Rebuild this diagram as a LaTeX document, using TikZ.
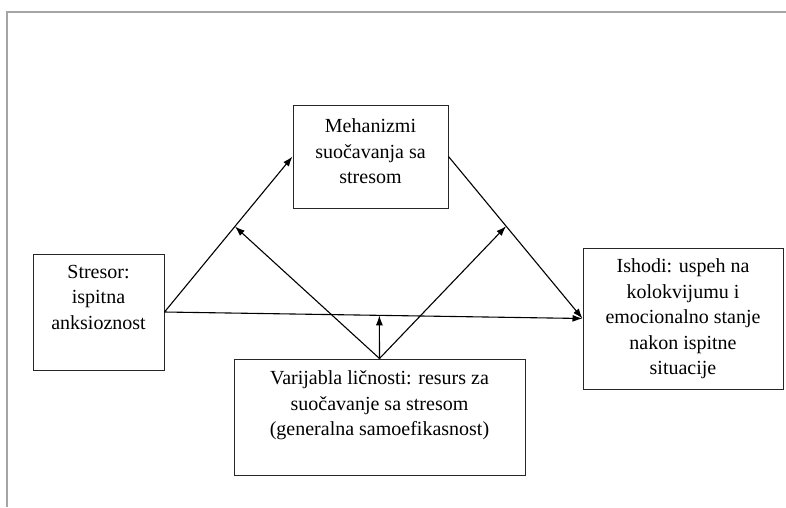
\documentclass[tikz,border=0pt]{standalone}
\usepackage{fontspec}
\setmainfont{Liberation Serif}
\usepackage{xcolor}
\usepackage{tikz}
\usetikzlibrary{positioning,calc,arrows.meta}

\definecolor{framegray}{RGB}{165,165,165}
\tikzset{
  box/.style={draw=black!85, line width=1pt, rectangle, inner sep=0pt},
  boxtext/.style={align=center, inner sep=0pt, font=\fontsize{20}{25.5}\selectfont}
}

\begin{document}
\begin{tikzpicture}[x=1pt, y=-1pt, >={Latex[length=10pt,width=7pt]}, line width=1.1pt]
        % Page frame
        \useasboundingbox (0,0) rectangle (786,507);
        \draw[line width=2pt, framegray] (7,507) -- (7,12) -- (786,12);

        % Coping mechanisms (top)
        \node[box, minimum width=155pt, minimum height=103pt] (mech) at (370.5,156.5) {};
        \node[boxtext, below=14pt of mech.north] (mechtxt) {Mehanizmi\\suočavanja sa\\stresom};

        % Stressor (left)
        \node[box, minimum width=131pt, minimum height=116pt] (stres) at (98.5,312) {};
        \node[boxtext, below=11pt of stres.north] (strestxt) {Stresor:\\ispitna\\anksioznost};

        % Outcomes (right)
        \node[box, minimum width=200pt, minimum height=141pt] (ishodi) at (683,318.5) {};
        \node[boxtext, below=11pt of ishodi.north] (ishoditxt) {Ishodi: uspeh na\\kolokvijumu i\\emocionalno stanje\\nakon ispitne\\situacije};

        % Personality variable (bottom)
        \node[box, minimum width=291pt, minimum height=116pt] (var) at (379.5,417) {};
        \node[boxtext, below=12pt of var.north] (vartxt) {Varijabla ličnosti: resurs za\\suočavanje sa stresom\\(generalna samoefikasnost)};

        % Main paths
        \draw[->] (stres.east) -- (mech.west);
        \draw[->] (mech.east) -- (ishodi.west);
        \draw[->] (stres.east) -- (ishodi.west);

        % Moderation arrows
        \coordinate (m1) at ($(stres.east)!0.55!(mech.west)$);
        \coordinate (m2) at ($(mech.east)!0.43!(ishodi.west)$);
        \coordinate (m3) at ($(stres.east)!0.514!(ishodi.west)$);
        \draw[->] (var.north) -- (m1);
        \draw[->] (var.north) -- (m2);
        \draw[->] (var.north) -- (m3);
    \end{tikzpicture}
\end{document}
